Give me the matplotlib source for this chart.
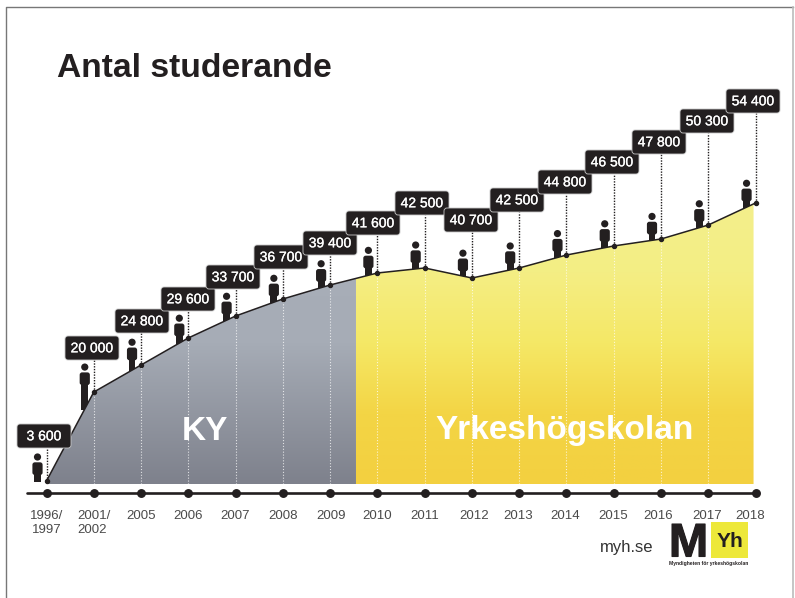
#!/usr/bin/env python3
"""Antal studerande: students per year, KY and Yrkeshogskolan."""

import numpy as np
import matplotlib
matplotlib.use('Agg')
import matplotlib.pyplot as plt
import matplotlib.patheffects as pe
from matplotlib.colors import LinearSegmentedColormap
from matplotlib.patches import Circle, FancyBboxPatch, Polygon, Rectangle
from matplotlib.transforms import Affine2D, blended_transform_factory

plt.rcParams['font.family'] = ['Liberation Sans', 'DejaVu Sans']

W, H = 795, 598
INK = '#231F20'

year_labels = ['1996/\n1997', '2001/\n2002', '2005', '2006', '2007', '2008', '2009', '2010',
               '2011', '2012', '2013', '2014', '2015', '2016', '2017', '2018']
students = [3600, 20000, 24800, 29600, 33700, 36700, 39400, 41600,
            42500, 40700, 42500, 44800, 46500, 47800, 50300, 54400]
# the original is not drawn to scale at the low end, so this is the curve as drawn
drawn_level = [600, 17800, 23040, 28270, 32520, 35820, 38530, 40850,
               41820, 39880, 41820, 44330, 46080, 47430, 50140, 54400]

# callout centres in pixels
box_x = [44, 92, 142, 188, 233, 281, 330, 373, 422, 471, 517, 565, 612, 659, 707, 753]
box_y = [436, 348, 321, 299, 277, 257, 243, 223, 203, 220, 200, 182, 162, 142, 121, 101]
person_h = [28, 46, 32, 29, 28, 28, 28, 29, 28, 27, 28, 28, 28, 28, 28, 28]
# year labels are not quite centred on their dots
label_nudge = [0, 0, 0, 0, -1, 0.5, 0.5, 0, 0, 2, -1, -1, -1, -2.5, -1.5, -5]

KY_END = 6.547  # index where KY stops and Yrkeshogskolan starts
X_STEP = 47.27
X0_PX, BASE_PX, TOP_PX = 46.5, 484, 203
AXIS_PX = 493

fig = plt.figure(figsize=(W / 100, H / 100), dpi=100)
ax = fig.add_axes([0, 0, 1, 1])
ax.axis('off')
per_px = drawn_level[-1] / (BASE_PX - TOP_PX)
xlim = (-X0_PX / X_STEP, (W - X0_PX) / X_STEP)
ylim = (-(H - BASE_PX) * per_px, BASE_PX * per_px)

px = Affine2D().scale(1, -1).translate(0, H)  # pixel coordinates, top left origin
x_px = blended_transform_factory(ax.transData, px)
xs = np.arange(len(students))
levels = np.array(drawn_level, dtype=float)


def gradient_area(x_from, x_to, stops):
    inner = (xs > x_from) & (xs < x_to)
    px_x = np.r_[x_from, xs[inner], x_to]
    px_y = np.interp(px_x, xs, levels)
    poly = Polygon(np.c_[np.r_[px_x, x_to, x_from], np.r_[px_y, 0, 0]], closed=True,
                   transform=ax.transData, facecolor='none', edgecolor='none')
    ax.add_patch(poly)
    cmap = LinearSegmentedColormap.from_list('g', stops)
    img = ax.imshow(np.linspace(0, 1, 256).reshape(-1, 1), cmap=cmap, aspect='auto',
                    extent=(x_from, x_to, 0, levels.max()), origin='upper', zorder=2)
    img.set_clip_path(poly)


def person(x, feet, height):
    head_r = 3.6
    top = feet - height
    parts = [
        Rectangle((x - 3.4, top + 18), 6.8, height - 18),
        FancyBboxPatch((x - 3.5, top + 10), 7, 9.5, boxstyle='round,pad=1.6,rounding_size=2.5'),
        Circle((x, top + head_r - 0.5), head_r),
    ]
    for p in parts:
        p.set(transform=px, facecolor=INK, edgecolor='none', zorder=1, clip_on=False)
        ax.add_patch(p)


gradient_area(0, KY_END, ['#A9AFB9', '#A6ACB6', '#7E818C'])
gradient_area(KY_END, 15 - 2 / X_STEP, ['#F3EF8C', '#F4EE84', '#F5E866', '#F3D545', '#F3D040'])
ax.set_xlim(xlim)
ax.set_ylim(ylim)

# frame of the slide
ax.plot([5.5, 5.5, 793], [H, 6.5, 6.5], color='#777777', lw=1.0, transform=px, clip_on=False)
ax.plot([793, 793], [6.5, H], color='#BBBBBB', lw=1.2, transform=px, clip_on=False)

ax.text(57, 77, 'Antal studerande', transform=px, fontsize=24.25, fontweight='bold',
        color=INK, ha='left', va='baseline')

# curve, drop lines, people and callouts
ax.vlines(xs, 0, levels, color='white', lw=0.8, linestyle=(0, (1, 1.6)), alpha=0.75, zorder=3)
ax.plot(xs, levels, color=INK, lw=1.1, zorder=5)
ax.plot(xs, levels, linestyle='none', marker='o', ms=2.9, color=INK, zorder=6)

to_px = ax.transData + px.inverted()
for i, value in enumerate(students):
    point = to_px.transform((i, levels[i]))
    person_x = point[0] - 9
    feet = to_px.transform((i - 9 / X_STEP, np.interp(i - 9 / X_STEP, xs, levels)))[1] + 1
    person(person_x, feet, person_h[i])
    ax.plot([point[0], point[0]], [point[1], box_y[i] + 12], color=INK, lw=1.0,
            linestyle=(0, (1, 1)), transform=px, zorder=4, clip_on=False)
    box = FancyBboxPatch((box_x[i] - 25, box_y[i] - 10), 50, 20,
                         boxstyle='round,pad=2,rounding_size=3', transform=px,
                         facecolor=INK, edgecolor='#C8C8C8', lw=0.6, zorder=7, clip_on=False)
    ax.add_patch(box)
    ax.text(box_x[i], box_y[i] + 0.3, f'{value:,}'.replace(',', ' '), transform=px, color='white',
            fontsize=10, ha='center', va='center', zorder=8,
            path_effects=[pe.withStroke(linewidth=0.2, foreground='white')])

ax.text(205, 439.5, 'KY', transform=px, color='white', fontsize=24, fontweight='bold',
        ha='center', va='baseline', zorder=8)
ax.text(564.5, 439.5, 'Yrkeshögskolan', transform=px, color='white', fontsize=24,
        fontweight='bold', ha='center', va='baseline', zorder=8)

# time axis
ax.plot([26.5, 755], [AXIS_PX, AXIS_PX], color=INK, lw=1.9, transform=px, solid_capstyle='round',
        clip_on=False)
ax.plot(xs, [AXIS_PX] * len(xs), linestyle='none', marker='o', ms=5.4, color=INK,
        transform=x_px, clip_on=False)
for i, label in enumerate(year_labels):
    ax.text(i + label_nudge[i] / X_STEP, 510, label, transform=x_px, fontsize=9.5, color='#4A4A4A',
            ha='center', va='top', multialignment='center' if i == 0 else 'left', linespacing=1.25)

# logo
ax.text(600, 552, 'myh.se', transform=px, fontsize=12, color='#333333', ha='left', va='baseline')
ax.text(688.5, 556.5, 'M', transform=px, fontsize=34, fontweight='bold', color=INK,
        ha='center', va='baseline', path_effects=[pe.withStroke(linewidth=0.8, foreground=INK)])
ax.add_patch(Rectangle((711, 521.5), 37, 36.5, transform=px, facecolor='#EDE83A',
                       edgecolor='none', clip_on=False))
ax.text(729.5, 547, 'Yh', transform=px, fontsize=15, fontweight='bold', color=INK,
        ha='center', va='baseline')
ax.text(708.5, 565, 'Myndigheten för yrkeshögskolan', transform=px, fontsize=3.65,
        fontweight='bold', color=INK, ha='center', va='baseline')

fig.savefig('out.png', dpi=100)
plt.close(fig)
